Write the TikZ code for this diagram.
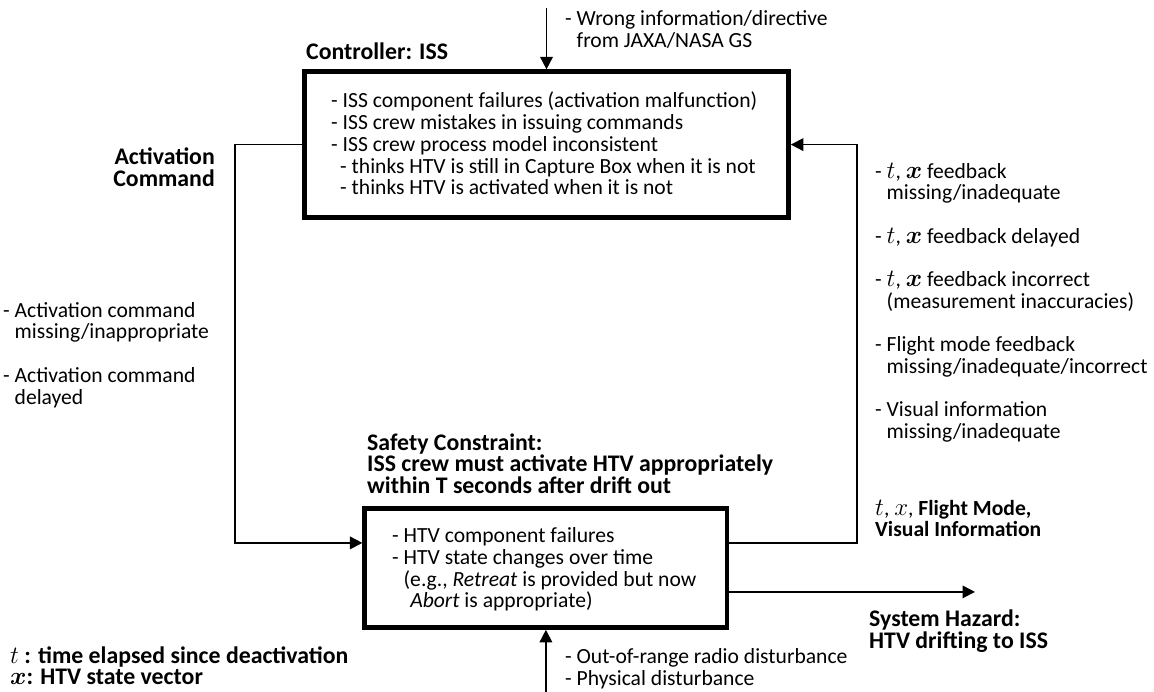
\documentclass[tikz,border=0pt]{standalone}
\usepackage{fontspec}
\setmainfont{Carlito}
\usepackage{amsmath}
\usetikzlibrary{arrows.meta}

% text sizes
\newcommand{\regsize}{\fontsize{21.6}{21.7}\selectfont}
\newcommand{\bldsize}{\fontsize{23.8}{21.7}\selectfont\bfseries}
% stacked lines, baseline of the block = baseline of its first line
\newcommand{\lines}[1]{\vtop{\baselineskip=21.7pt\lineskiplimit=-50pt\lineskip=0pt
  \halign{##\hfil\cr#1\crcr}}}
\newcommand{\rlines}[1]{\vtop{\baselineskip=21.7pt\lineskiplimit=-50pt\lineskip=0pt
  \halign{\hfil##\cr#1\crcr}}}
\newcommand{\ind}{\phantom{- }}
% time and state-vector symbols, set a little larger than the text
\newcommand{\vt}{{\fontsize{24.5}{21.7}\selectfont$t$}}
\newcommand{\vx}{{\fontsize{24.5}{21.7}\selectfont$\boldsymbol{x}$}}
\newcommand{\vxl}{{\fontsize{24.5}{21.7}\selectfont$x$}}

\tikzset{
  box/.style={draw, line width=4.6pt, inner sep=0pt},
  arr/.style={line width=1.8pt, -{Triangle[length=12.5pt,width=12.5pt]}},
  txt/.style={anchor=base west, inner sep=0pt, font=\regsize},
  btxt/.style={anchor=base west, inner sep=0pt, font=\bldsize},
}

\begin{document}
\begin{tikzpicture}[x=1pt,y=-1pt]
\useasboundingbox[fill=white] (0,0) rectangle (1154,692);

% controller and controlled process
\node[box, minimum width=484pt, minimum height=145.8pt] (ctrl) at (546.5,144.6) {};
\node[box, minimum width=362.3pt, minimum height=119.2pt] (htv) at (545.9,567.9) {};

\node[btxt] (ctrltitle) at (306,60) {Controller: ISS};
\node[txt] (ctrltext) at (331,108) {\lines{%
  - ISS component failures (activation malfunction)\cr
  - ISS crew mistakes in issuing commands\cr
  - ISS crew process model inconsistent\cr
  \hspace{9pt}- thinks HTV is still in Capture Box when it is not\cr
  \hspace{9pt}- thinks HTV is activated when it is not}};

\node[btxt] (safety) at (367,450) {\lines{%
  Safety Constraint:\cr
  ISS crew must activate HTV appropriately\cr
  within T seconds after drift out}};
\node[txt] (htvtext) at (392,542.7) {\lines{%
  - HTV component failures\cr
  - HTV state changes over time\cr
  \ind(e.g., \textit{Retreat} is provided but now\cr
  \ind\phantom{(}\textit{Abort} is appropriate)}};

% connector geometry
\coordinate (topin) at (546.5,8);
\coordinate (botin) at (545.9,692);
\coordinate (actx) at (235,0);
\coordinate (fbx) at (857,0);
\coordinate (hazx) at (975,0);
\coordinate (htvin) at ([yshift=25pt]htv.west);
\coordinate (htvout) at ([yshift=25pt]htv.east);
\coordinate (hazstart) at ([yshift=-24pt]htv.east);

% control action
\draw[arr] (ctrl.west) -- (ctrl.west -| actx) |- (htvin);
% feedback
\draw[arr] (htvout) -| (fbx |- ctrl.east) -- (ctrl.east);
% outside inputs and hazard
\draw[arr] (topin) -- (ctrl.north);
\draw[arr] (botin) -- (htv.south);
\draw[arr] (hazstart) -- (hazstart -| hazx);

% labels
\node[txt] (gsinfo) at (565,26) {\lines{%
  - Wrong information/directive\cr
  \ind from JAXA/NASA GS}};
\node[txt] (disturb) at (565,663.3) {\lines{%
  - Out-of-range radio disturbance\cr
  - Physical disturbance}};
\node[anchor=base east, inner sep=0pt, font=\bldsize] (actlabel) at (215,165) {\rlines{%
  Activation\cr Command}};
\node[txt] (actflaws) at (3,317.3) {\lines{%
  - Activation command\cr
  \ind missing/inappropriate\cr
  \cr
  - Activation command\cr
  \ind delayed}};
\node[txt] (fbflaws) at (875,178.3) {\lines{%
  - \vt, \vx\ feedback\cr
  \ind missing/inadequate\cr
  \cr
  - \vt, \vx\ feedback delayed\cr
  \cr
  - \vt, \vx\ feedback incorrect\cr
  \ind(measurement inaccuracies)\cr
  \cr
  - Flight mode feedback\cr
  \ind missing/inadequate/incorrect\cr
  \cr
  - Visual information\cr
  \ind missing/inadequate}};
\node[txt] (fblabel) at (875,515) {\lines{%
  \vt, \vxl, \textbf{Flight Mode,}\cr
  \textbf{Visual Information}}};
\node[btxt] (hazard) at (869,626.7) {\lines{%
  System Hazard:\cr
  HTV drifting to ISS}};
\node[btxt] (legend) at (10,663) {\lines{%
  {\mdseries\vt} : time elapsed since deactivation\cr
  \vx: HTV state vector}};
\end{tikzpicture}
\end{document}
